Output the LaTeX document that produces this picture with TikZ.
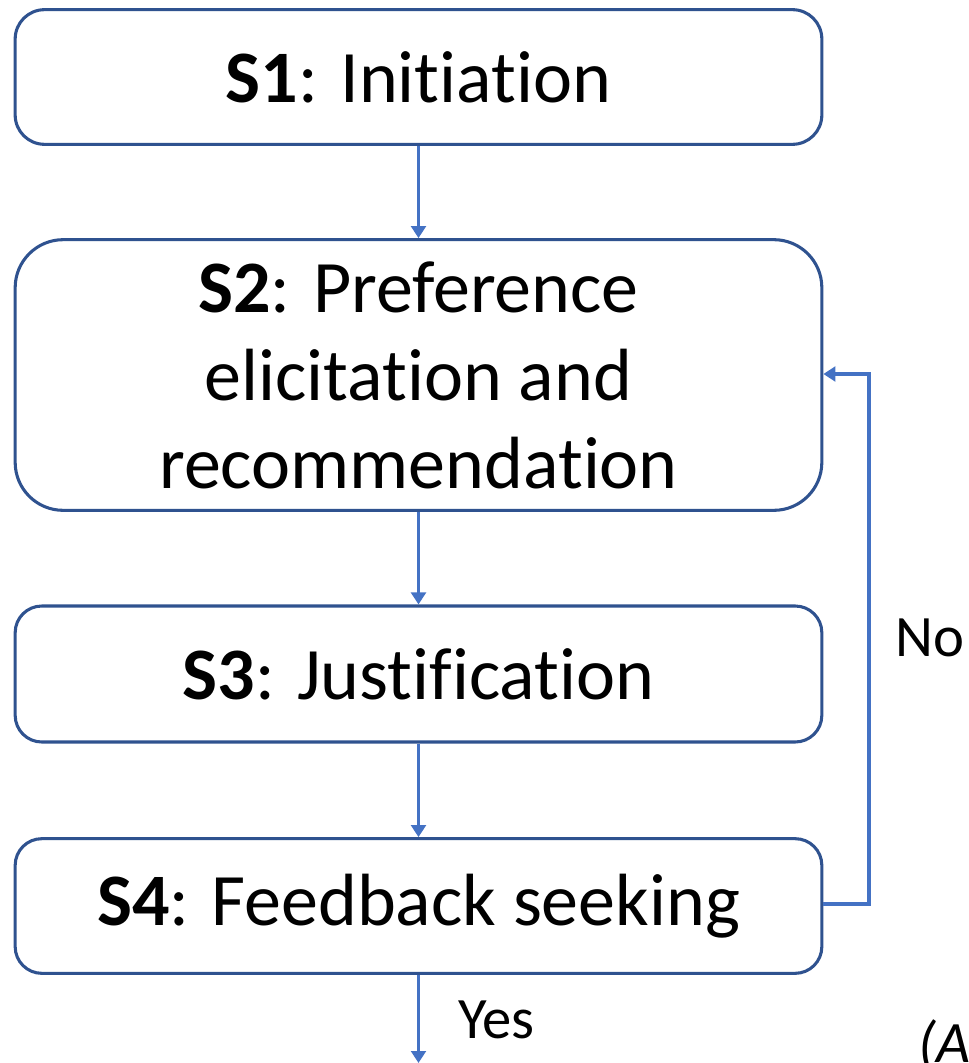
\documentclass[tikz,border=0pt]{standalone}
\usepackage{fontspec}
\setmainfont[Ligatures={NoCommon}]{Carlito}
\usetikzlibrary{arrows.meta}
\definecolor{boxline}{HTML}{2F528F}
\definecolor{flow}{HTML}{4472C4}
\begin{document}
\begin{tikzpicture}[x=0.75pt,y=-0.75pt,
  stage/.style={draw=boxline,line width=2.3pt,fill=white,minimum width=605pt,
    align=center,font=\fontsize{55.5}{66}\selectfont,inner sep=0pt},
  flowarrow/.style={draw=flow,line width=2.3pt,-{Triangle[length=9pt,width=11pt]}},
  lbl/.style={font=\fontsize{44}{50}\selectfont,inner sep=0pt}]
\useasboundingbox (0,0) rectangle (969,1063);
\node[stage,rounded corners=22pt,minimum height=101pt] (s1) at (418.5,77) {\textbf{S1}: Initiation};
\node[stage,rounded corners=36pt,minimum height=203pt] (s2) at (418.5,375) {\textbf{S2}: Preference\\elicitation and\\recommendation};
\node[stage,rounded corners=20pt,minimum height=102pt] (s3) at (418.5,674) {\textbf{S3}: Justification};
\node[stage,rounded corners=20pt,minimum height=101pt] (s4) at (418.5,906) {\textbf{S4}: Feedback seeking};
\coordinate (out) at (418.5,1063);
\coordinate (loopR) at (869,904);
\coordinate (loopT) at (869,374);
\draw[flowarrow] (s1.south) -- (s2.north);
\draw[flowarrow] (s2.south) -- (s3.north);
\draw[flowarrow] (s3.south) -- (s4.north);
\draw[flowarrow] (s4.south) -- (out);
\draw[flowarrow] (s4.east |- loopR) -- (loopR) -- (loopT) -- (s2.east |- loopT);
\node[lbl,anchor=west] (no) at (895,638) {No};
\node[lbl,anchor=west] (yes) at (458,1020) {Yes};
\node[lbl,anchor=west,font=\fontsize{44}{50}\selectfont\itshape] (tag) at (918,1045) {(A)};
\end{tikzpicture}
\end{document}
